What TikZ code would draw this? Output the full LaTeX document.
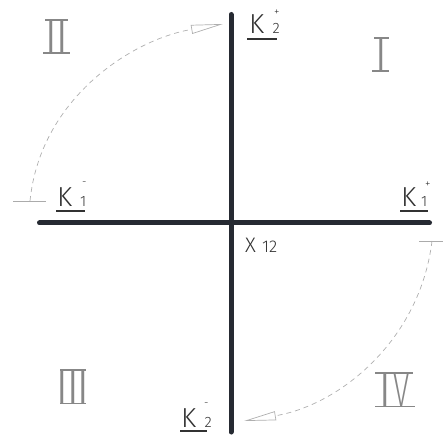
\documentclass[tikz,border=0pt]{standalone}
\usepackage{fontspec}
\setmainfont{Liberation Sans}
\newfontfamily\thinfont{Fira Sans Light}
\usepackage{xcolor}
\usetikzlibrary{arrows.meta}

\definecolor{axisdark}{RGB}{38,42,50}
\definecolor{numgray}{RGB}{135,135,135}
\definecolor{dashgray}{RGB}{175,175,175}
\definecolor{labgray}{RGB}{50,50,50}

\begin{document}
\begin{tikzpicture}[x=1pt, y=-1pt,
  axis/.style={line width=5pt, line cap=round, draw=axisdark},
  quad/.style={font=\thinfont\fontsize{48}{48}\selectfont, text=numgray, inner sep=0pt, anchor=base},
  bar/.style={draw=numgray, line width=1.4pt},
  kmain/.style={font=\thinfont\fontsize{27.5}{27.5}\selectfont, text=labgray, inner sep=0pt, anchor=base west},
  kidx/.style={font=\thinfont\fontsize{15}{15}\selectfont, text=labgray, inner sep=0pt, anchor=base west},
  ksign/.style={font=\thinfont\fontsize{11}{11}\selectfont, text=labgray, inner sep=0pt, anchor=base west},
  uline/.style={draw=labgray, line width=1.2pt},
  extmark/.style={draw=numgray!70, line width=0.7pt},
  swing/.style={draw=dashgray, line width=0.7pt, dash pattern=on 5pt off 4pt, -{Triangle[open, length=32pt, width=9pt]}}
]
\useasboundingbox (0,0) rectangle (444,438);

% axes
\coordinate (top) at (231,14.5);
\coordinate (bot) at (231,432);
\coordinate (lft) at (39.5,223);
\coordinate (rgt) at (429.5,223);
\draw[axis] (top) -- (bot);
\draw[axis] (lft) -- (rgt);

% quadrant numerals
\node[quad] (q1) at (381.5,71) {I};
\node[quad] (q2) at (56.5,53) {I\kern-2.5pt I};
\node[quad] (q3) at (73,403) {I\kern-3pt I\kern-3pt I};
\node[quad] (q4) at (394,406) {I\kern1pt\scalebox{0.62}[1]{V}};
\draw[bar] ([xshift=-7.5pt]q1.north) -- ++(15,0);
\draw[bar] ([xshift=-9.5pt]q1.south) -- ++(17,0);
\draw[bar] ([xshift=-11.5pt]q2.north) -- ++(23,0);
\draw[bar] ([xshift=-13.5pt]q2.south) -- ++(27,0);
\draw[bar] ([xshift=-13pt]q3.north) -- ++(26,0);
\draw[bar] ([xshift=-13pt]q3.south) -- ++(26,0);
\draw[bar] ([xshift=-19pt]q4.north) -- ++(38,0);
\draw[bar] ([xshift=-19pt]q4.south) -- ++(40,0);

% axis end labels
\node[kmain] (k2p) at (249,34) {K};
\node[kidx] (k2p-i) at (272.5,34) {2};
\node[ksign] (k2p-s) at (274,16) {+};
\node[kmain] (k1m) at (57,207) {K};
\node[kidx] (k1m-i) at (80,207) {1};
\node[ksign] (k1m-s) at (82,185.5) {-};
\node[kmain] (k1p) at (401,207) {K};
\node[kidx] (k1p-i) at (421,207) {1};
\node[ksign] (k1p-s) at (425,188) {+};
\node[kmain] (k2m) at (181,427) {K};
\node[kidx] (k2m-i) at (204.5,427) {2};
\node[ksign] (k2m-s) at (204,406) {-};
\draw[uline] ([shift={(-2,5)}]k2p.base west) -- ++(30,0);
\draw[uline] ([shift={(-1,4)}]k1m.base west) -- ++(29,0);
\draw[uline] ([shift={(-1,4)}]k1p.base west) -- ++(28,0);
\draw[uline] ([shift={(-1,4)}]k2m.base west) -- ++(27,0);

% origin label
\node[font=\thinfont\fontsize{21}{21}\selectfont, text=labgray, inner sep=0pt, anchor=base west] (xo) at (245,253) {X};
\node[font=\thinfont\fontsize{17}{17}\selectfont, text=labgray, inner sep=0pt, anchor=base west] (xo-i) at (262,253) {12};

% rotation arcs
\coordinate (s1) at (30,201);
\coordinate (e1) at (223,24);
\coordinate (s2) at (432,241);
\coordinate (e2) at (244,421);
\draw[extmark] (13,201) -- (46,201);
\draw[extmark] (419,241) -- (443,241);
\draw[swing] (s1) .. controls (40,100) and (130,40) .. (e1);
\draw[swing] (s2) .. controls (420,340) and (340,405) .. (e2);
\end{tikzpicture}
\end{document}
